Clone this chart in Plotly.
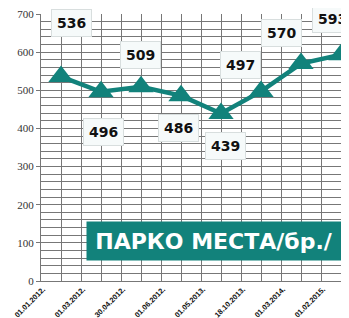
import plotly.graph_objects as go

dates = ["01.01.2012.", "01.03.2012.", "30.04.2012.", "01.06.2012.",
         "01.05.2013.", "18.10.2013.", "01.03.2014.", "01.02.2015."]
values = [536, 496, 509, 486, 439, 497, 570, 593]
label_dx = [10, 2, -1, -3, 4, -21, -20, -9]
label_dy = [54, -40, 32, -32, -32, 26, 31, 36]
title_text = "ПАРКО МЕСТА/бр./"

teal = "#12827b"
grid = "#777777"
xs = list(range(len(values)))

fig = go.Figure()
fig.add_trace(go.Scatter(
    x=xs, y=values, mode="lines+markers",
    line=dict(color=teal, width=4.5),
    marker=dict(symbol="triangle-up", size=22, color=teal),
    cliponaxis=False, hoverinfo="skip"))

for x, v, dx, dy in zip(xs, values, label_dx, label_dy):
    fig.add_annotation(x=x, y=v, text="<b>%d</b>" % v, showarrow=False,
                       xshift=dx, yshift=dy,
                       font=dict(family="DejaVu Sans", size=14, color="#111"),
                       bgcolor="#f6fafa", bordercolor="#d8dede", borderwidth=1,
                       borderpad=5)

fig.add_annotation(x=3.83, y=104, text="<b>" + title_text + "</b>", showarrow=False,
                   font=dict(family="DejaVu Sans", size=22, color="white"),
                   bgcolor=teal, width=252, height=36)

fig.update_xaxes(
    range=[-0.5, 7.2], automargin=False, ticklabeloverflow="allow",
    tickvals=[x - 0.45 for x in xs], ticktext=["<b>%s</b>" % d for d in dates],
    tickangle=-45,
    tickfont=dict(family="Liberation Sans", size=7.5, color="#111"),
    showgrid=False, zeroline=False,
    showline=True, linecolor=grid, linewidth=1, ticks="",
    minor=dict(dtick=0.5, tick0=-0.5, showgrid=True, gridcolor=grid, gridwidth=1),
)
fig.update_yaxes(
    range=[0, 700], dtick=100, automargin=False, ticklabeloverflow="allow",
    tickfont=dict(family="Liberation Serif", size=11, color="#333"),
    showgrid=True, gridcolor=grid, gridwidth=1, zeroline=False,
    showline=True, linecolor=grid, linewidth=1,
    ticks="outside", ticklen=4, tickcolor=grid,
    minor=dict(dtick=20, showgrid=True, gridcolor=grid, gridwidth=1),
)
# page body has an 8px default margin, so the figure is shrunk by 8px
fig.update_layout(
    width=341, height=310,
    margin=dict(l=33, r=0, t=6, b=37),
    paper_bgcolor="white", plot_bgcolor="white",
    showlegend=False,
)
fig.write_html("out.html")
